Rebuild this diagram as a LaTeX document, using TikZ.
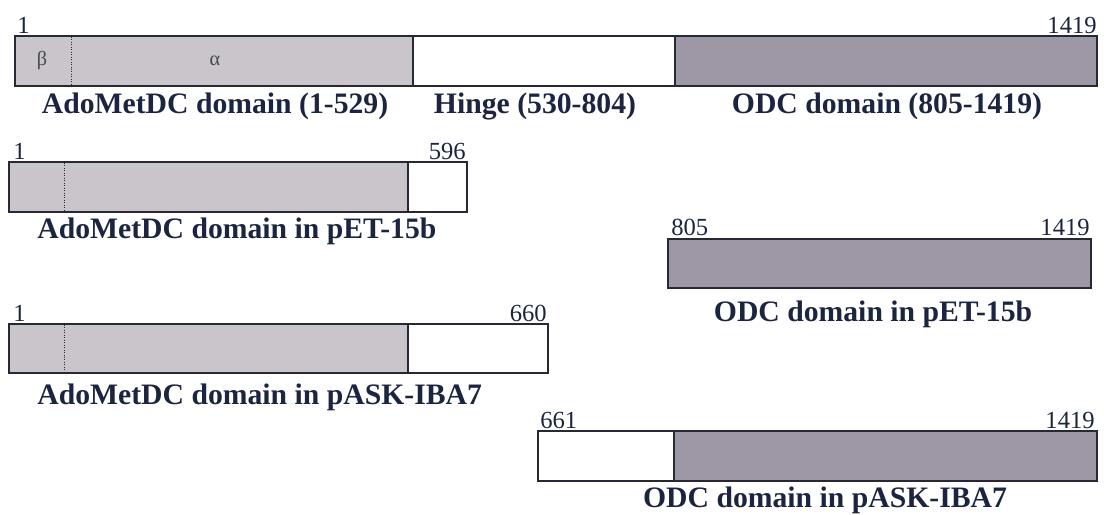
\documentclass[tikz,border=0pt]{standalone}
\usepackage{fontspec}
\setmainfont{Liberation Serif}
\usepackage{tikz}
\usetikzlibrary{calc}
\definecolor{ink}{RGB}{28, 37, 64}
\definecolor{edge}{RGB}{40, 40, 52}
\definecolor{adomet}{RGB}{201, 197, 203}
\definecolor{odc}{RGB}{157, 151, 166}

\begin{document}
\begin{tikzpicture}[x=0.02cm,y=-0.02cm,
  bar/.style={draw=edge,line width=1pt},
  num/.style={anchor=base west,inner sep=0pt,text=ink,font=\fontsize{14}{16}\selectfont},
  numr/.style={num,anchor=base east},
  lab/.style={text=ink,inner sep=0pt,font=\fontsize{16.9}{19}\selectfont\bfseries},
  greek/.style={text=edge!85,font=\fontsize{11.5}{13}\selectfont}]
\useasboundingbox (0,0) rectangle (1104,514);
% full length protein
\filldraw[bar,fill=adomet] (15,36) rectangle (413,86);
\draw[bar,fill=white] (413,36) rectangle (675,86);
\filldraw[bar,fill=odc] (675,36) rectangle (1097,86);
\draw[edge,densely dotted] (71,37) -- (71,85);
\node[greek] (beta) at (42,61) {β};
\node[greek] (alpha) at (215,61) {α};
\node[num] (fS) at (17,33) {1};
\node[numr] (fE) at (1097,33) {1419};
\node[lab] (fA) at (215,106) {AdoMetDC domain (1-529)};
\node[lab] (fH) at (535,106) {Hinge (530-804)};
\node[lab] (fO) at (887,106) {ODC domain (805-1419)};
% AdoMetDC in pET-15b
\filldraw[bar,fill=adomet] (9,162) rectangle (408,212);
\draw[bar,fill=white] (408,162) rectangle (467,212);
\draw[edge,densely dotted] (64,163) -- (64,211);
\node[num] (aS) at (13,159) {1};
\node[numr] (aE) at (466,159) {596};
\node[lab,anchor=west] (aL) at (37,231) {AdoMetDC domain in pET-15b};
% ODC in pET-15b
\filldraw[bar,fill=odc] (668,239) rectangle (1091,288);
\node[num] (oS) at (671,235) {805};
\node[numr] (oE) at (1090,235) {1419};
\node[lab] (oL) at (873,314) {ODC domain in pET-15b};
% AdoMetDC in pASK-IBA7
\filldraw[bar,fill=adomet] (9,324) rectangle (408,373);
\draw[bar,fill=white] (408,324) rectangle (548,373);
\draw[edge,densely dotted] (64,325) -- (64,372);
\node[num] (bS) at (13,321) {1};
\node[numr] (bE) at (547,321) {660};
\node[lab,anchor=west] (bL) at (37,397) {AdoMetDC domain in pASK-IBA7};
% ODC in pASK-IBA7
\draw[bar,fill=white] (538,431) rectangle (674,481);
\filldraw[bar,fill=odc] (674,431) rectangle (1097,481);
\node[num] (cS) at (540,428) {661};
\node[numr] (cE) at (1095,428) {1419};
\node[lab] (cL) at (825,500) {ODC domain in pASK-IBA7};
\end{tikzpicture}
\end{document}
